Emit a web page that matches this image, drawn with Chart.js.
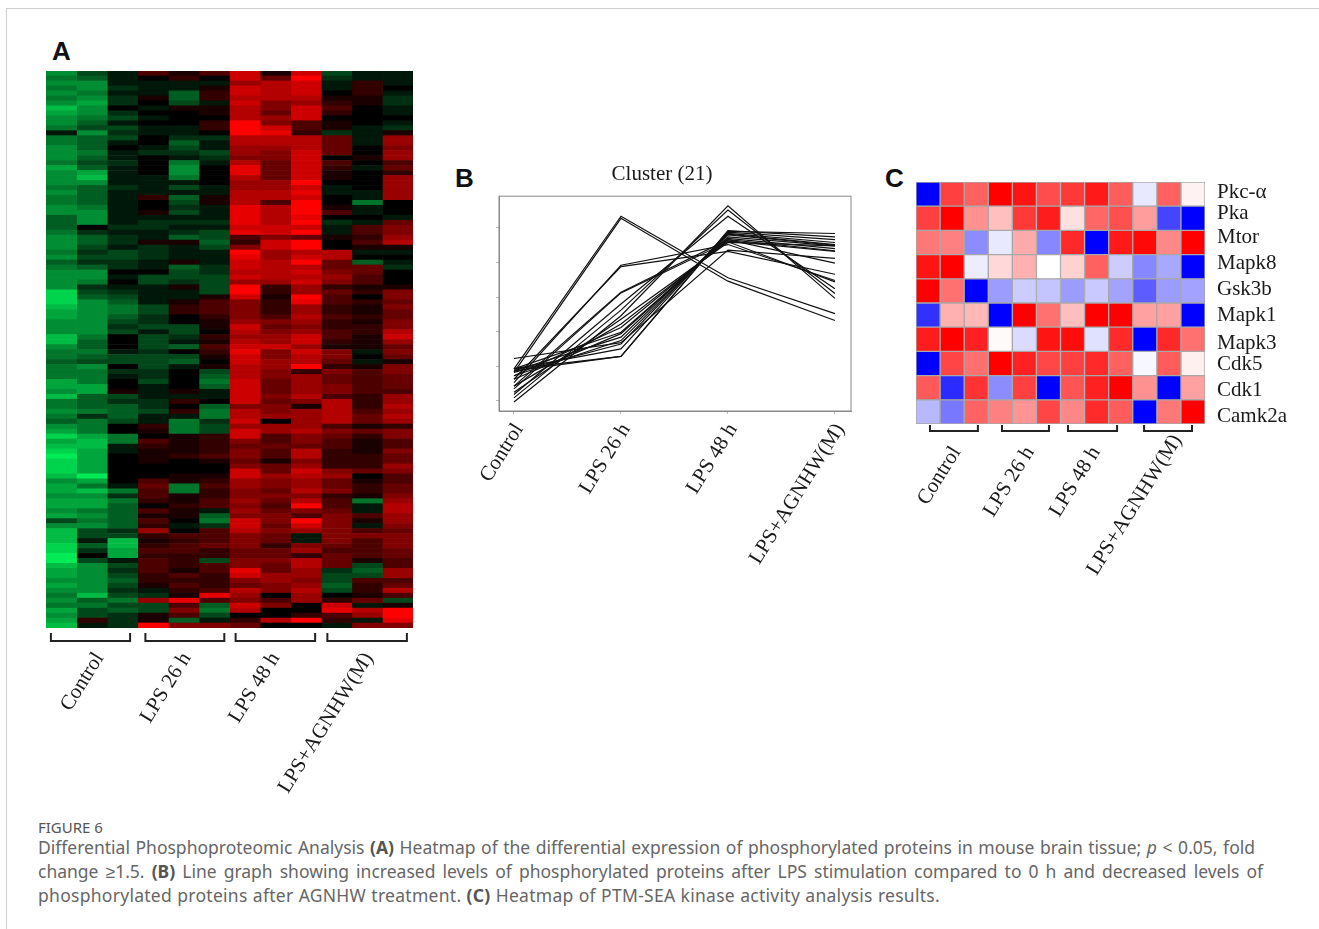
<!DOCTYPE html>
<html><head><meta charset="utf-8">
<script src="https://cdn.jsdelivr.net/npm/chart.js@4"></script>
<style>
html,body{margin:0;padding:0;background:#fff;width:1319px;height:929px;overflow:hidden;position:relative}
canvas{position:absolute;filter:blur(.5px)}
.frameT{position:absolute;left:6px;top:8px;right:0;height:1px;background:#cfcfcf}
.frameL{position:absolute;left:6px;top:8px;bottom:0;width:1px;background:#cfcfcf}
.panel{position:absolute;font:bold 26px "Liberation Sans",sans-serif;color:#111;line-height:30px}
#fig{position:absolute;left:38px;top:817px;font:15px "Noto Sans",sans-serif;color:#555}
#cap{position:absolute;left:38px;top:835px;font:17.5px/24px "Noto Sans",sans-serif;color:#666}
#cap div{white-space:nowrap;text-align:justify;text-align-last:justify}
#cap b{color:#555}
</style></head><body>
<div class="frameT"></div><div class="frameL"></div>
<div class="panel" style="left:52px;top:36px">A</div>
<div class="panel" style="left:455px;top:163px">B</div>
<div class="panel" style="left:885px;top:163px">C</div>
<canvas id="a" width="367" height="735" style="left:46px;top:71px"></canvas>
<canvas id="b" width="388" height="430" style="left:473px;top:155px"></canvas>
<canvas id="c" width="396" height="420" style="left:900px;top:182px"></canvas>
<div id="fig">FIGURE 6</div>
<div id="cap">
<div style="width:1217px">Differential Phosphoproteomic Analysis <b>(A)</b> Heatmap of the differential expression of phosphorylated proteins in mouse brain tissue; <i>p</i> &lt; 0.05, fold</div>
<div style="width:1225px">change ≥1.5. <b>(B)</b> Line graph showing increased levels of phosphorylated proteins after LPS stimulation compared to 0 h and decreased levels of</div>
<div style="width:902px;letter-spacing:.28px">phosphorylated proteins after AGNHW treatment. <b>(C)</b> Heatmap of PTM-SEA kinase activity analysis results.</div>
</div>
<script>
const groupNames = ["Control","LPS 26 h","LPS 48 h","LPS+AGNHW(M)"];

// Panel A: log-ratio per replicate column (-10 green .. +10 red)
const ctrl1 = [-6,-5,-6,-5,-6,-5,-6,-8,-7,-6,-6,-5,-1,-5,-5,-6,-6,-6,-5,-7,-6,-6,-6,-5,-6,-5,-5,-6,-6,-4,-4,-4,-5,-6,-6,-6,-5,-6,-4,-5,-6,-6,-6,-6,-9,-9,-9,-8,-7,-7,-6,-6,-6,-8,-8,-6,
 -5,-5,-4,-5,-5,-5,-7,-7,-6,-8,-5,-5,-6,-5,-4,-6,-7,-9,-7,-8,-9,-10,-9,-9,-9,-8,-6,-7,-7,-6,-7,-7,-6,-7,-3,-6,-8,-8,-8,-9,-9,-10,-10,-8,-7,-7,-6,-7,-6,-5,-6,-5,-7,-6,-7,-8];
const ctrl2 = [-3,-4,-6,-6,-5,-6,-7,-6,-6,-5,-4,-3,-6,-4,-4,-4,-5,-4,-3,-4,-7,-8,-6,-4,-4,-4,-4,-5,-6,-6,-6,0,-2,-4,-4,-3,-2,-3,-2,-4,-6,-6,-5,-2,-3,-4,-6,-6,-6,-6,-6,-6,-6,-5,-4,-4,
 -5,-4,-3,-6,-5,-5,-5,-7,-7,-4,-4,-4,-5,-2,-5,-5,-5,-7,-8,-8,-7,-7,-7,-7,-7,-10,-7,-5,-8,-6,-7,-7,-5,-6,-5,-6,-3,-3,-1,-4,-2,0,-3,-6,-6,-6,-6,-6,-6,-8,-4,-5,-3,-3,2,-1];
const ctrl3 = [-1,-1,-1,-2,-1,-2,-2,0,-2,-3,-1,-3,-2,-3,-1,0,-1,-1,-2,-1,-1,-1,-1,-2,-1,-1,-1,-1,-1,-1,-1,-2,-1,-2,-2,-1,-3,-3,-2,-2,0,-1,0,-1,-2,-3,-4,-5,-5,-4,-3,-2,-3,0,0,0,
 -1,-3,-3,0,-2,-1,0,0,1,-3,-2,-4,-4,-4,-3,0,0,-5,-5,-1,-1,0,0,0,0,0,0,-1,-5,-2,-5,-4,-4,-4,-4,-4,-2,-3,-8,-8,-7,-7,-1,-3,-2,-3,-4,-3,-2,-3,-5,-3,-4,-2,-2,-2];
const lps26a = [3,0,-1,-1,-1,1,0,-1,0,-1,0,-1,-1,0,0,-1,-2,0,0,0,0,-1,-1,-1,-1,2,0,0,1,-1,-2,-2,-1,-1,1,-2,-2,-2,-1,-1,0,-3,-3,-1,-1,-1,-1,-3,-3,-2,-2,-3,-1,-3,-3,-3,
 -2,-3,-3,-3,-2,-2,-3,-1,-1,-1,-2,-2,-3,-1,-1,2,1,0,3,2,1,1,1,0,0,0,3,4,3,3,2,0,3,1,3,2,6,2,1,2,3,2,3,3,3,2,2,1,-1,-2,6,-3,-3,1,1,10];
const lps26b = [1,2,-1,-1,-4,-4,-3,1,0,0,0,-1,-1,-2,-4,-3,-2,-1,-5,-6,-6,-5,-1,-3,-1,-4,-3,-2,-3,-1,-2,-1,-2,-4,1,-1,-1,-1,1,-4,-3,-3,-2,1,-1,-1,1,2,2,0,0,-3,-3,-2,-1,-4,
 0,-3,-4,-1,0,0,0,0,1,-1,2,0,2,-1,-5,-5,-5,1,1,1,1,2,0,0,0,1,1,-5,-5,1,1,2,1,1,0,-1,0,3,2,3,3,2,2,2,1,3,2,3,2,1,9,3,5,3,-4,5];
const lps26c = [3,0,-1,1,2,2,-1,1,1,0,2,2,0,-2,-1,-1,-3,-2,-1,0,0,0,0,-1,-1,1,1,-1,-1,-1,-2,-1,-3,-3,-4,-3,-1,-1,-1,-2,-2,-3,-3,-3,-3,1,3,3,3,2,1,1,0,2,1,3,
 2,1,0,1,-3,-4,-5,-4,-1,-1,0,-4,-5,-5,-2,-3,-3,2,2,2,2,3,1,0,0,1,2,3,2,2,3,3,-1,-4,-5,-2,3,3,3,4,2,2,-3,3,3,2,2,2,3,9,3,-4,-5,-3,-1,5];
const lps48a = [8,8,6,8,8,7,8,7,7,7,10,10,10,7,7,6,6,5,7,9,9,7,6,6,7,7,7,9,9,9,9,8,9,3,2,5,10,9,8,8,7,8,6,10,10,8,5,5,5,5,6,8,7,6,7,8,
 9,8,8,7,7,7,8,8,8,8,8,5,7,7,8,6,8,8,5,4,5,5,4,5,8,8,6,6,5,5,6,5,6,5,8,8,7,5,5,5,4,4,5,5,9,8,5,4,7,6,5,8,7,0,2,4];
const lps48b = [1,4,7,7,7,7,5,5,4,6,5,8,9,7,7,6,5,5,4,4,4,4,6,6,7,7,3,7,7,7,7,8,8,5,8,8,6,6,7,7,7,7,6,2,2,1,2,2,2,3,5,4,5,6,6,8,
 5,5,6,6,5,5,4,4,4,5,4,5,5,6,0,6,6,3,3,4,3,3,1,4,4,6,5,5,4,5,4,3,4,5,5,4,5,4,4,2,4,4,5,4,4,6,6,5,5,0,3,5,0,0,7,0];
const lps48c = [8,10,8,8,8,7,6,8,8,8,3,3,2,7,7,7,8,8,8,8,8,8,10,8,9,8,10,10,10,9,10,8,10,4,10,10,7,8,10,7,8,7,8,6,6,10,9,6,6,7,6,5,6,8,8,6,
 8,7,7,10,2,6,6,6,6,7,5,1,6,6,6,6,7,5,5,4,7,7,5,6,8,7,6,6,7,5,7,10,5,3,10,8,6,-1,-1,5,6,2,7,7,6,6,5,6,7,6,6,0,0,2,10,0];
const agn1 = [-3,-2,-1,-1,0,1,2,3,2,0,1,1,-2,4,4,4,4,0,3,2,1,1,0,-1,-1,0,0,1,3,0,-2,-1,-1,1,0,0,7,7,4,4,5,6,5,2,4,3,3,2,2,3,2,2,3,3,2,1,
 5,5,4,2,5,4,4,5,5,3,7,7,7,7,7,3,5,4,3,3,2,2,2,2,5,6,4,4,5,2,3,3,4,5,5,5,5,5,5,4,3,4,4,4,-2,-3,-3,-4,-3,0,2,8,9,3,2,-1];
const agn2 = [-1,-1,2,2,2,1,1,0,0,0,0,-1,-1,-1,-1,0,0,1,0,-1,0,0,0,0,-1,-1,-5,-1,-1,0,-1,3,3,2,3,1,-1,0,-4,4,4,3,3,1,2,0,2,1,1,2,1,2,2,1,1,1,
 -1,0,-1,1,3,3,3,3,3,2,2,2,3,4,4,1,4,2,1,1,1,2,2,2,4,0,1,2,2,1,-5,-1,-1,3,1,-1,3,5,3,3,3,3,1,-3,-4,-3,3,2,2,1,4,-1,7,6,-1,5];
const agn3 = [-1,-1,-1,0,-1,-2,-2,-1,-1,0,-1,-2,1,6,6,5,6,6,3,4,2,6,6,6,6,6,0,0,0,-1,4,5,5,6,7,1,-1,0,-1,-2,0,0,0,1,5,5,4,5,4,4,5,5,7,8,6,4,
 5,4,1,5,5,4,4,4,3,6,6,7,6,7,6,2,5,5,3,3,5,4,4,6,5,3,3,4,4,5,6,7,7,6,6,5,4,5,5,5,4,4,3,3,6,6,3,4,7,3,-3,1,10,10,9,5];
const columnsA = [ctrl1,ctrl2,ctrl3,lps26a,lps26b,lps26c,lps48a,lps48b,lps48c,agn1,agn2,agn3];
const bracketsA = [[0.16,2.75],[3.25,5.83],[6.2,8.8],[9.2,11.8]];
const labelPosA = [1.75,4.6,7.5,10.55];

// Panel B: cluster profiles across the four conditions
const s01=[-1.04,1.17,0.28,-0.24], s02=[-1.09,1.14,0.23,-0.34], s03=[-1.52,-0.27,1.32,-0.02],
 s04=[-1.46,-0.19,1.26,0.05], s05=[-1.41,-0.10,1.17,0.12], s06=[-1.19,0.44,0.66,0.33],
 s07=[-1.24,0.46,0.76,0.24], s08=[-1.33,0.06,0.80,0.22], s09=[-1.29,0.07,0.83,0.49],
 s10=[-0.89,-0.66,0.68,0.56], s11=[-1.04,-0.86,0.95,0.92], s12=[-1.07,-0.86,0.96,0.87],
 s13=[-1.04,-0.75,0.94,0.83], s14=[-1.09,-0.68,0.92,0.79], s15=[-1.14,-0.63,0.91,0.76],
 s16=[-1.07,-0.58,0.90,0.75], s17=[-1.19,-0.53,0.87,0.74], s18=[-1.04,-0.51,0.85,0.70],
 s19=[-1.14,-0.44,0.83,0.67], s20=[-1.29,-0.39,0.81,0.66], s21=[-1.38,-0.32,0.79,0.74];
const clusterSeries=[s01,s02,s03,s04,s05,s06,s07,s08,s09,s10,s11,s12,s13,s14,s15,s16,s17,s18,s19,s20,s21];
const yTicksB=[-1.5,-1,-0.5,0,0.5,1];

// Panel C: kinase activity (-1 blue .. +1 red)
const geneNames=["Pkc-α","Pka","Mtor","Mapk8","Gsk3b","Mapk1","Mapk3","Cdk5","Cdk1","Camk2a"];
const pkcA =[-1,.75,.62,1,.92,.7,.78,.9,.64,-.09,.62,.05];
const pka  =[.75,1,.43,.25,.78,.89,.12,.6,.69,.39,-.73,-1];
const mtor =[.53,.5,-.45,-.09,.33,-.47,.84,-1,.9,.97,.47,1];
const mapk8=[.92,1,-.07,.15,.31,0,.18,.62,-.2,-.47,-.34,-1];
const gsk3b=[1,.56,-1,-.39,-.2,-.23,-.39,-.21,-.36,-.64,-.39,-.36];
const mapk1=[-.81,.31,.28,-1,1,.56,.25,1,1,.37,.37,-1];
const mapk3=[.89,1,.87,.02,-.14,.92,.95,-.12,.83,-1,.84,.56];
const cdk5 =[-1,.73,.56,1,.87,.72,.75,.84,.62,-.03,.64,.06];
const cdk1 =[.65,-.83,.8,-.45,.75,-1,.67,.87,1,.43,-1,.37];
const camk2a=[-.28,-.53,.61,.5,.42,.73,.47,.83,.64,-1,.53,1];
const rowsC=[pkcA,pka,mtor,mapk8,gsk3b,mapk1,mapk3,cdk5,cdk1,camk2a];
const geneTickRows=[-0.07,0.80,1.80,2.88,3.96,5.0,6.16,7.03,8.11,9.2];
const bracketsC=[[0.58,2.57],[3.57,5.52],[6.31,8.35],[9.47,11.46]];
const labelPosC=[1.68,4.73,7.47];
const labelPosCLast=[10.85];

const SERIF='"Liberation Serif",serif';
const LABEL_ROTATION=58, LABEL_FONT={family:SERIF,size:21};
Chart.defaults.animation=false;
const greenRed=v=>v>=0?`rgb(${Math.round(25.5*v)},0,0)`:`rgb(0,${Math.round(-23.5*v)},${Math.round(-8.5*v)})`;
const blueRed=v=>{const k=Math.round(255*(1-Math.abs(v)));return v>=0?`rgb(255,${k},${k})`:`rgb(${k},${k},255)`;};
const bracketPlugin=(spans,drop)=>({id:'brackets',afterDraw(ch){
  const c=ch.ctx,x=ch.scales.x,b=ch.chartArea.bottom;
  c.save();c.strokeStyle='#222';c.lineWidth=2;
  spans.forEach(([s,e])=>{c.beginPath();c.moveTo(x.getPixelForValue(s),b+drop[0]);c.lineTo(x.getPixelForValue(s),b+drop[1]);
    c.lineTo(x.getPixelForValue(e),b+drop[1]);c.lineTo(x.getPixelForValue(e),b+drop[0]);c.stroke();});
  c.restore();}});
const groupAxis=(pos,height,padding,names)=>({type:'linear',min:0,max:12,stacked:true,
  afterBuildTicks:s=>{s.ticks=pos.map(value=>({value}));},
  afterFit:s=>{s.height=height;s.paddingLeft=0;s.paddingRight=0;},
  grid:{display:false,drawTicks:false},border:{display:false},
  ticks:{autoSkip:false,minRotation:LABEL_ROTATION,maxRotation:LABEL_ROTATION,padding,color:'#1a1a1a',font:LABEL_FONT,callback:(v,i)=>names[i]}});

new Chart(document.getElementById('a'),{type:'bar',
  data:{labels:ctrl1.map((_,i)=>'row '+(i+1)),
    datasets:columnsA.map((col,j)=>({label:'sample '+(j+1),data:col.map(()=>1),backgroundColor:col.map(greenRed),borderWidth:0,barPercentage:1,categoryPercentage:1}))},
  options:{indexAxis:'y',responsive:false,plugins:{legend:{display:false},tooltip:{enabled:false}},
    scales:{x:groupAxis(labelPosA,178,20,groupNames),y:{stacked:true,display:false}}},
  plugins:[bracketPlugin(bracketsA,[5,13])]});

new Chart(document.getElementById('b'),{type:'line',
  data:{datasets:clusterSeries.map((s,k)=>({label:'p'+(k+1),data:s.map((y,x)=>({x,y})),borderColor:'#111',borderWidth:1.2,pointRadius:0,tension:0}))},
  options:{responsive:false,layout:{padding:{right:10}},
    plugins:{legend:{display:false},tooltip:{enabled:false},
      title:{display:true,text:'Cluster (21)',color:'#1a1a1a',font:{family:SERIF,size:21,weight:'normal'},padding:{top:7,bottom:9}}},
    scales:{x:{type:'linear',min:-0.14,max:3.15,
        afterBuildTicks:s=>{s.ticks=groupNames.map((_,value)=>({value}));},
        afterFit:s=>{s.height=174;s.paddingLeft=0;s.paddingRight=0;},
        grid:{drawOnChartArea:false,tickLength:3,tickColor:'#bbb'},border:{color:'#888'},
        ticks:{autoSkip:false,minRotation:LABEL_ROTATION,maxRotation:LABEL_ROTATION,padding:5,labelOffset:5,color:'#1a1a1a',font:LABEL_FONT,callback:(v,i)=>groupNames[i]}},
      y:{min:-1.65,max:1.46,afterBuildTicks:s=>{s.ticks=yTicksB.map(value=>({value}));},afterFit:s=>{s.width=26;},
        grid:{drawOnChartArea:false,tickLength:3,tickColor:'#bbb'},border:{color:'#888'},ticks:{display:false}}}},
  plugins:[{id:'box',afterDraw(ch){const a=ch.chartArea,c=ch.ctx;c.save();c.strokeStyle='#888';c.lineWidth=1;c.strokeRect(a.left,a.top,a.width,a.height);c.restore();}}]});

new Chart(document.getElementById('c'),{type:'bar',
  data:{labels:geneNames,
    datasets:pkcA.map((_,j)=>({label:'sample '+(j+1),data:rowsC.map(()=>1),backgroundColor:rowsC.map(r=>blueRed(r[j])),borderColor:'#a8a8a8',borderWidth:1,borderSkipped:false,barPercentage:1,categoryPercentage:1}))},
  options:{indexAxis:'y',responsive:false,layout:{padding:{left:16}},plugins:{legend:{display:false},tooltip:{enabled:false}},
    scales:{xLast:{...groupAxis(labelPosCLast,0,6,groupNames.slice(3)),position:'bottom',weight:-1},
      x:groupAxis(labelPosC,178,18,groupNames),y:{stacked:true,display:false},
      yNames:{type:'linear',position:'right',offset:false,min:-0.5,max:9.5,reverse:true,
        afterBuildTicks:s=>{s.ticks=geneTickRows.map(value=>({value}));},afterFit:s=>{s.width=91;s.paddingTop=0;s.paddingBottom=0;},
        grid:{display:false,drawTicks:false},border:{display:false},
        ticks:{autoSkip:false,padding:12,color:'#1a1a1a',font:{family:SERIF,size:21},callback:(v,i)=>geneNames[i]}}}},
  plugins:[bracketPlugin(bracketsC,[1,7]),{id:'lastLabelRoom',afterLayout(ch){ch.scales.xLast.bottom=ch.height;}}]});
</script></body></html>
